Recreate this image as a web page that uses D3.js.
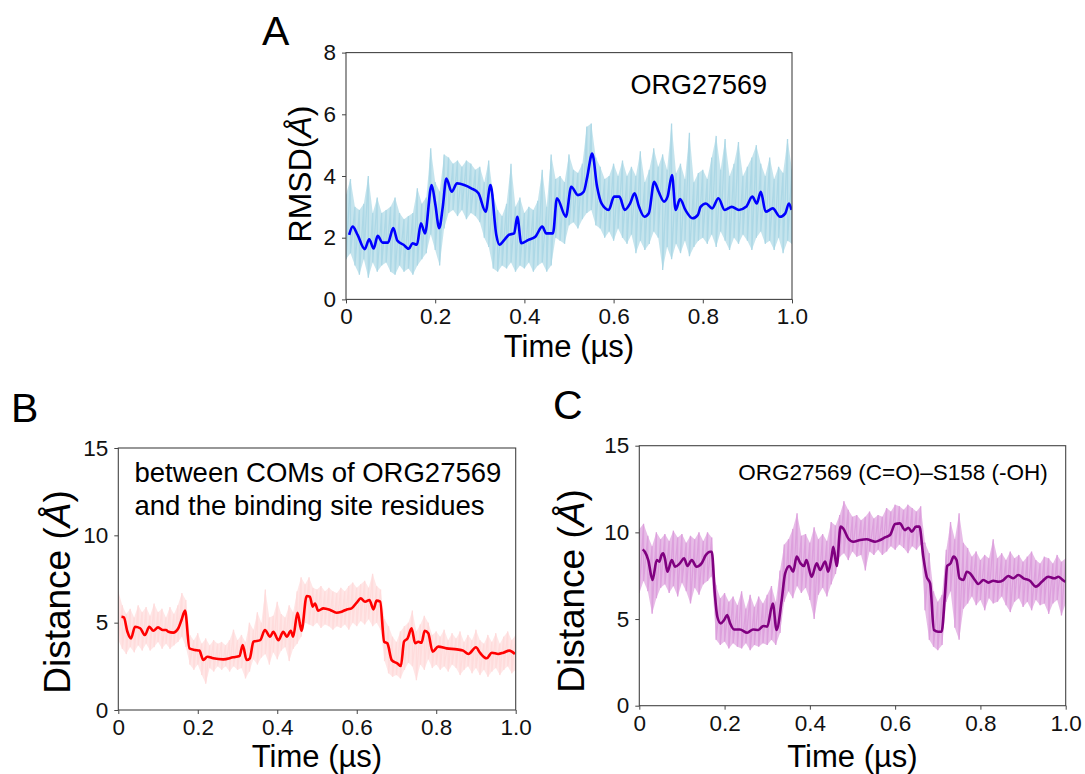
<!DOCTYPE html>
<html>
<head>
<meta charset="utf-8">
<script src="https://cdn.jsdelivr.net/npm/d3@7"></script>
<style>
  body { margin: 0; background: #fff; }
  svg { display: block; font-family: "Liberation Sans", Arial, sans-serif; }
</style>
</head>
<body>
<svg id="fig" width="1085" height="774"></svg>
<script>
// ---- data ----
var timeTicks = [0, 0.2, 0.4, 0.6, 0.8, 1.0];
var rmsdTicks = [0, 2, 4, 6, 8];
var distTicks = [0, 5, 10, 15];

// raw trace sample times (us); each raw trace is kept as its upper / lower excursions
var rawTime = [0,0.01,0.02,0.03,0.04,0.05,0.06,0.07,0.08,0.09,0.1,0.11,0.12,0.13,0.14,0.15,0.16,0.17,0.18,0.19,
  0.2,0.21,0.22,0.23,0.24,0.25,0.26,0.27,0.28,0.29,0.3,0.31,0.32,0.33,0.34,0.35,0.36,0.37,0.38,0.39,
  0.4,0.41,0.42,0.43,0.44,0.45,0.46,0.47,0.48,0.49,0.5,0.51,0.52,0.53,0.54,0.55,0.56,0.57,0.58,0.59,
  0.6,0.61,0.62,0.63,0.64,0.65,0.66,0.67,0.68,0.69,0.7,0.71,0.72,0.73,0.74,0.75,0.76,0.77,0.78,0.79,
  0.8,0.81,0.82,0.83,0.84,0.85,0.86,0.87,0.88,0.89,0.9,0.91,0.92,0.93,0.94,0.95,0.96,0.97,0.98,0.99,1.0];

// A: RMSD
var rmsdRawHi = [3.4,3.9,3.0,2.9,3.1,4.0,2.8,3.3,2.8,2.9,3.0,3.3,2.8,2.6,2.7,2.8,3.6,3.1,3.3,4.9,
  3.8,3.5,4.7,4.6,4.4,4.5,4.3,4.5,4.4,4.2,4.3,3.8,4.5,3.4,2.9,2.7,3.1,4.4,3.0,3.3,
  2.8,3.0,2.9,3.2,4.2,3.0,4.7,3.9,4.0,3.8,4.7,4.2,4.1,4.4,5.6,5.7,4.6,4.3,3.9,4.0,
  4.4,4.0,4.5,4.0,4.3,4.0,4.8,3.8,4.2,4.9,4.3,4.7,4.2,5.7,4.1,4.4,3.9,5.4,3.8,4.1,
  4.2,3.9,4.6,5.3,4.2,5.2,4.0,4.4,5.1,4.0,4.3,4.6,5.0,4.4,4.0,4.6,3.9,4.3,4.1,5.2,4.2];
var rmsdRawLo = [1.3,1.5,1.1,0.8,1.3,0.7,1.2,0.9,1.1,1.2,0.9,0.8,1.1,0.9,1.0,0.8,1.1,1.3,1.5,2.1,
  1.6,1.1,2.3,2.8,2.9,2.7,2.9,2.6,2.8,2.7,2.5,2.0,1.7,1.0,0.9,1.1,1.0,1.2,0.9,1.1,
  1.0,1.2,0.9,1.1,1.2,0.9,1.1,2.0,1.9,1.8,2.4,2.5,2.3,2.6,2.8,2.9,2.4,2.3,2.0,2.2,
  1.9,2.3,2.0,1.8,2.1,1.5,1.9,1.6,1.8,2.2,2.0,0.95,1.7,1.3,1.8,1.5,1.9,1.4,1.7,1.9,
  2.0,1.8,2.1,1.7,2.2,1.9,1.6,2.0,1.8,2.1,1.9,1.6,2.0,2.2,1.8,1.9,1.6,2.0,1.5,1.9,1.8];
var rmsdSmoothTime = [0.007,0.015,0.026,0.042,0.052,0.062,0.071,0.082,0.094,0.106,0.115,0.129,0.141,0.149,0.159,0.168,0.177,
  0.192,0.2,0.209,0.217,0.225,0.237,0.249,0.265,0.281,0.297,0.313,0.324,0.337,0.344,0.355,0.365,0.377,0.384,0.393,
  0.409,0.425,0.44,0.449,0.464,0.473,0.493,0.505,0.52,0.533,0.541,0.552,0.563,0.573,0.589,0.601,0.613,0.625,0.637,
  0.647,0.657,0.669,0.679,0.691,0.701,0.713,0.721,0.731,0.739,0.749,0.761,0.777,0.789,0.795,0.807,0.821,0.835,0.849,
  0.865,0.881,0.897,0.911,0.921,0.93,0.941,0.957,0.973,0.985,0.993,0.999];
var rmsdSmooth = [2.09,2.36,2.09,1.63,1.95,1.65,2.06,1.84,1.84,2.31,1.91,1.77,1.64,1.82,1.77,2.47,2.14,
  3.71,3.11,2.31,3.0,3.92,3.49,3.76,3.71,3.6,3.44,2.84,3.71,2.09,1.77,1.93,2.09,2.14,2.68,1.82,
  1.93,2.04,2.36,2.14,2.14,3.28,2.68,3.65,3.38,3.49,3.98,4.73,3.65,3.11,2.9,3.33,3.33,2.9,3.11,
  3.44,3.0,2.68,2.79,3.81,3.49,3.17,3.33,4.03,2.9,3.25,2.9,2.63,2.74,3.0,3.11,2.95,3.28,2.9,
  3.0,2.9,3.0,3.33,3.11,3.49,2.84,2.95,2.68,2.79,3.11,2.9];

// B: COM distance
var comRawHi = [6.8,6.0,5.5,5.8,5.3,6.0,5.6,5.9,5.4,6.1,5.6,5.8,5.3,5.9,5.5,6.0,6.7,6.3,4.3,4.0,
  4.4,3.8,4.1,3.7,4.0,3.8,3.9,3.7,4.0,4.6,4.0,4.3,3.9,5.0,4.6,5.6,5.0,6.9,5.3,5.4,
  6.2,5.5,5.3,6.0,5.6,6.8,7.6,7.2,7.6,7.0,6.9,7.1,6.8,7.0,6.8,6.7,7.0,6.8,7.1,7.3,
  7.0,7.2,7.4,7.0,7.8,7.1,6.9,5.2,4.8,4.2,3.9,4.5,4.8,5.0,5.7,4.5,4.9,5.4,5.0,4.3,
  4.5,4.2,4.6,4.0,4.4,4.1,4.5,3.9,4.3,4.0,4.6,4.0,3.8,4.3,3.9,4.4,3.8,4.2,4.5,4.0,4.3];
var comRawLo = [4.0,3.5,3.2,3.6,3.3,3.7,3.4,3.8,3.4,3.6,3.9,3.5,3.8,3.5,3.7,3.9,4.2,3.6,2.6,2.3,
  2.6,2.0,1.5,2.4,2.2,2.5,2.3,2.5,2.2,2.5,2.3,2.4,1.8,2.2,2.9,2.6,3.0,3.2,2.6,3.3,
  2.9,3.4,3.6,2.8,3.5,3.8,4.2,5.0,4.9,4.8,5.0,4.7,4.9,4.8,4.6,4.8,4.7,4.9,4.6,5.0,
  4.8,5.1,4.9,5.2,4.8,5.0,4.6,2.8,2.1,1.9,2.0,1.8,2.3,2.7,2.5,1.7,2.6,2.3,2.9,2.4,
  2.6,2.3,2.5,2.2,2.6,2.4,2.0,2.3,2.5,2.1,2.4,2.0,2.3,1.9,2.2,2.4,2.0,2.3,2.5,2.1,2.3];
var comSmoothTime = [0.008,0.014,0.023,0.032,0.042,0.055,0.067,0.078,0.088,0.1,0.112,0.12,0.126,0.138,0.151,0.159,0.168,
  0.179,0.193,0.204,0.214,0.224,0.239,0.264,0.289,0.305,0.313,0.323,0.331,0.34,0.357,0.369,0.382,0.39,0.403,0.415,
  0.424,0.434,0.44,0.451,0.461,0.474,0.482,0.489,0.495,0.503,0.516,0.533,0.549,0.562,0.575,0.587,0.6,0.61,0.621,
  0.632,0.642,0.65,0.659,0.669,0.677,0.688,0.702,0.711,0.719,0.728,0.738,0.747,0.755,0.763,0.771,0.78,0.791,0.805,
  0.826,0.852,0.868,0.881,0.9,0.91,0.927,0.94,0.956,0.969,0.984,0.998];
var comSmooth = [5.34,5.3,4.48,4.1,4.77,4.68,4.29,4.77,4.54,4.73,4.58,4.58,4.48,4.43,4.68,5.15,5.69,
  3.53,3.44,3.4,2.86,3.05,2.96,2.9,3.02,3.09,3.72,2.86,2.96,3.91,4.0,4.58,4.2,4.48,4.0,4.48,
  4.2,4.54,4.2,5.57,4.54,6.53,6.49,5.92,6.1,5.69,5.82,5.73,5.57,5.63,5.76,5.82,6.15,6.39,6.2,
  6.3,5.76,6.26,6.2,3.91,3.82,2.86,2.67,2.52,3.91,4.1,4.68,3.82,3.91,3.85,4.54,4.39,3.34,3.63,
  3.53,3.47,3.4,3.21,3.59,3.28,2.96,3.28,3.21,3.28,3.4,3.21];

// C: C=O to S158 hydroxyl distance
var hbRawHi = [10.2,10.5,9.8,9.2,10.0,9.6,9.9,9.5,10.1,9.7,9.9,9.4,9.8,9.6,10.0,9.5,10.0,9.7,6.9,6.2,
  6.5,6.0,6.3,5.8,6.6,5.6,6.4,5.7,6.3,5.9,6.4,6.9,6.0,7.8,9.3,9.6,10.2,11.1,9.8,9.9,
  9.4,10.3,9.6,9.9,9.5,10.6,10.4,11.0,11.8,11.3,10.9,11.0,10.7,10.9,11.2,10.8,11.0,10.9,11.4,11.2,
  11.6,11.5,11.3,11.6,11.4,11.2,11.5,9.4,8.8,6.6,6.0,6.4,9.0,10.6,9.6,11.1,9.4,9.1,8.6,8.9,
  8.4,8.7,8.5,9.6,8.5,8.8,8.4,8.9,8.5,8.7,8.3,8.6,8.9,8.4,8.2,8.6,8.5,8.2,8.7,8.3,8.5];
var hbRawLo = [6.5,7.2,6.6,5.3,6.2,6.8,7.0,6.5,6.9,6.3,7.1,6.6,5.9,6.8,6.4,7.0,7.2,7.5,3.8,3.5,
  3.7,3.3,3.6,3.4,3.3,3.6,3.2,3.5,3.4,3.6,3.5,3.8,3.5,4.2,6.0,6.6,6.2,6.9,6.5,6.8,
  6.1,5.0,6.4,6.8,6.3,7.0,7.6,8.6,8.8,8.4,8.9,8.6,8.7,7.8,8.9,8.7,9.0,8.7,8.9,9.2,
  9.0,9.3,9.1,8.8,9.2,9.0,9.3,5.5,3.8,3.4,3.2,3.5,6.0,6.6,4.5,3.8,5.6,5.9,6.3,5.8,
  6.1,5.5,6.2,5.9,6.0,6.3,5.8,5.4,6.0,6.2,5.7,6.0,5.5,6.1,5.8,5.9,5.3,5.9,6.1,5.2,5.9];
var hbSmoothTime = [0.008,0.013,0.021,0.031,0.041,0.047,0.052,0.056,0.06,0.066,0.076,0.084,0.095,0.105,0.113,0.123,0.134,
  0.146,0.156,0.166,0.17,0.177,0.183,0.191,0.199,0.206,0.213,0.222,0.236,0.253,0.267,0.279,0.291,0.3,0.313,0.322,
  0.334,0.342,0.352,0.361,0.369,0.378,0.386,0.392,0.404,0.416,0.424,0.436,0.443,0.451,0.455,0.463,0.472,0.478,0.49,
  0.502,0.518,0.533,0.553,0.565,0.576,0.588,0.6,0.611,0.623,0.631,0.639,0.649,0.657,0.666,0.674,0.682,0.691,0.701,
  0.709,0.717,0.722,0.73,0.737,0.744,0.751,0.76,0.768,0.776,0.787,0.795,0.807,0.819,0.83,0.842,0.854,0.865,0.877,
  0.889,0.901,0.916,0.93,0.944,0.959,0.973,0.983,0.995,1.0];
var hbSmooth = [9.02,8.88,8.4,7.25,8.4,8.31,8.69,8.79,8.5,7.73,8.4,8.02,8.21,8.5,8.06,8.4,8.02,
  8.21,8.69,8.88,8.88,6.48,5.13,4.75,4.94,5.23,4.75,4.4,4.4,4.21,4.4,4.37,4.6,4.56,5.9,4.37,
  6.1,7.63,8.06,7.73,8.6,8.21,8.06,8.4,7.44,8.21,7.83,8.31,7.73,8.6,9.17,8.06,10.33,10.23,9.65,
  9.46,9.56,9.6,9.46,9.56,9.71,9.85,10.48,10.52,10.13,10.27,10.04,10.33,10.33,8.6,7.44,7.06,4.37,4.27,
  4.27,6.48,8.06,8.21,8.6,8.4,7.35,7.25,7.73,7.63,7.25,7.02,7.25,7.1,7.21,7.15,7.25,7.48,7.35,
  7.54,7.35,7.21,6.87,7.15,7.44,7.35,7.44,7.21,7.15];

// ---- drawing ----
var svg = d3.select("#fig");
var fmtTime = function(d) { return d === 0 ? "0" : d3.format(".1f")(d); };

function drawPanel(p) {
  var x = d3.scaleLinear().domain([0, 1]).range([p.left, p.right]);
  var y = d3.scaleLinear().domain([0, p.yMax]).range([p.bottom, p.top]);
  var g = svg.append("g");

  g.append("clipPath").attr("id", "clip" + p.id)
    .append("rect")
      .attr("x", p.left).attr("y", p.top)
      .attr("width", p.right - p.left).attr("height", p.bottom - p.top);

  var plot = g.append("g").attr("clip-path", "url(#clip" + p.id + ")");

  // raw trace: band between the excursions, then a zig-zag through them
  var band = d3.area()
    .x(function(d, i) { return x(rawTime[i]); })
    .y0(function(d, i) { return y(p.lo[i]); })
    .y1(function(d, i) { return y(p.hi[i]); });
  plot.append("path")
    .attr("d", band(rawTime))
    .attr("fill", p.rawColor)
    .attr("opacity", 0.7);

  var raw = [];
  rawTime.forEach(function(t, i) {
    raw.push([t, p.hi[i]]);
    raw.push([t, p.lo[i]]);
  });
  var line = d3.line()
    .x(function(d) { return x(d[0]); })
    .y(function(d) { return y(d[1]); });

  plot.append("path")
    .attr("d", line(raw))
    .attr("fill", "none")
    .attr("stroke", p.rawColor)
    .attr("stroke-width", 1.3)
    .attr("stroke-linejoin", "bevel");

  var smooth = p.smoothTime.map(function(t, i) { return [t, p.smooth[i]]; });
  plot.append("path")
    .attr("d", line.curve(d3.curveMonotoneX)(smooth))
    .attr("fill", "none")
    .attr("stroke", p.lineColor)
    .attr("stroke-width", 2.6)
    .attr("stroke-linejoin", "round");

  var xAxis = g.append("g")
    .attr("transform", "translate(0," + p.bottom + ")")
    .call(d3.axisBottom(x).tickValues(timeTicks).tickFormat(fmtTime).tickSize(4).tickPadding(5));
  var yAxis = g.append("g")
    .attr("transform", "translate(" + p.left + ",0)")
    .call(d3.axisLeft(y).tickValues(p.yTicks).tickSize(4).tickPadding(6));
  [xAxis, yAxis].forEach(function(a) {
    a.select(".domain").remove();
    a.selectAll(".tick line").attr("stroke", "#444");
    a.selectAll(".tick text")
      .attr("fill", "#111")
      .style("font-size", "22.5px")
      .style("font-family", "'Liberation Sans', Arial, sans-serif");
  });

  g.append("rect")
    .attr("x", p.left).attr("y", p.top)
    .attr("width", p.right - p.left).attr("height", p.bottom - p.top)
    .attr("fill", "none").attr("stroke", "#444").attr("stroke-width", 1.1);

  g.append("text")
    .attr("x", (p.left + p.right) / 2)
    .attr("y", p.xTitleY)
    .attr("text-anchor", "middle")
    .style("font-size", "31px")
    .text("Time (µs)");

  var yt = g.append("text")
    .attr("transform", "translate(" + p.yTitleX + "," + p.yTitleMid + ") rotate(-90)")
    .attr("text-anchor", "middle")
    .style("font-size", p.yTitleSize + "px");
  yt.append("tspan").text(p.yTitle);
  yt.append("tspan").style("font-style", "italic").text("Å");
  yt.append("tspan").text(")");

  g.append("text")
    .attr("x", p.letterX).attr("y", p.letterY)
    .style("font-size", "41px")
    .text(p.id);

  p.notes.forEach(function(n) {
    g.append("text")
      .attr("x", n.x).attr("y", n.y)
      .attr("text-anchor", n.anchor)
      .style("font-size", n.size + "px")
      .text(n.text);
  });
}

drawPanel({
  id: "A", left: 346, right: 792, top: 52.6, bottom: 299.4, yMax: 8, yTicks: rmsdTicks,
  hi: rmsdRawHi, lo: rmsdRawLo, smoothTime: rmsdSmoothTime, smooth: rmsdSmooth,
  rawColor: "#add8e6", lineColor: "#0000ff",
  xTitleY: 357, yTitleX: 311, yTitleMid: 174, yTitleSize: 32, yTitle: "RMSD(",
  letterX: 262, letterY: 45,
  notes: [{text: "ORG27569", x: 767, y: 94, anchor: "end", size: 27}]
});

drawPanel({
  id: "B", left: 118.3, right: 515.7, top: 448, bottom: 710, yMax: 15, yTicks: distTicks,
  hi: comRawHi, lo: comRawLo, smoothTime: comSmoothTime, smooth: comSmooth,
  rawColor: "#ffdcdc", lineColor: "#ff0000",
  xTitleY: 767, yTitleX: 69.5, yTitleMid: 592, yTitleSize: 37, yTitle: "Distance (",
  letterX: 11, letterY: 422,
  notes: [
    {text: "between COMs of ORG27569", x: 134.5, y: 481.7, anchor: "start", size: 27.5},
    {text: "and the binding site residues", x: 134.5, y: 515, anchor: "start", size: 27.5}
  ]
});

drawPanel({
  id: "C", left: 639.3, right: 1065.7, top: 445.7, bottom: 705.7, yMax: 15, yTicks: distTicks,
  hi: hbRawHi, lo: hbRawLo, smoothTime: hbSmoothTime, smooth: hbSmooth,
  rawColor: "#dda0dd", lineColor: "#800080",
  xTitleY: 767, yTitleX: 583.5, yTitleMid: 591, yTitleSize: 37, yTitle: "Distance (",
  letterX: 553, letterY: 419,
  notes: [{text: "ORG27569 (C=O)–S158 (-OH)", x: 1047.7, y: 480, anchor: "end", size: 22.5}]
});
</script>
</body>
</html>
